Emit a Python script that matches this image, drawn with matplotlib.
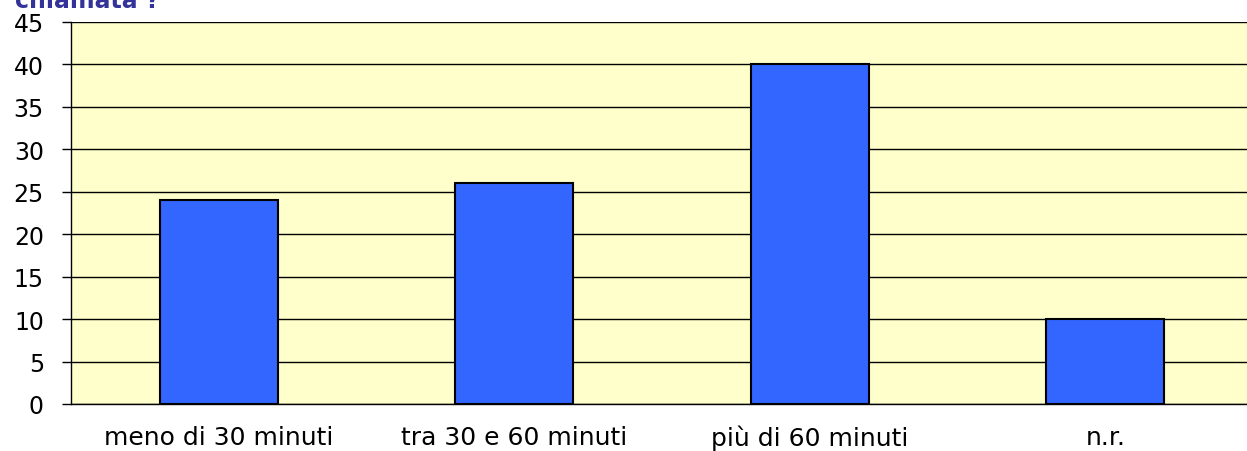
import matplotlib.pyplot as plt

# data
categories = ["meno di 30 minuti", "tra 30 e 60 minuti", "più di 60 minuti", "n.r."]
values = [24, 26, 40, 10]
yticks = [0, 5, 10, 15, 20, 25, 30, 35, 40, 45]

fig = plt.figure(figsize=(12.47, 4.52), dpi=100)
ax = fig.add_axes([71 / 1247, 47 / 452, 1182 / 1247, 382 / 452])
ax.set_facecolor("#FFFFCC")

x = range(len(categories))
ax.bar(x, values, width=0.40, color="#3366FF", edgecolor="black", linewidth=1.5, zorder=3)

ax.set_xlim(-0.5, len(categories) - 0.5)
ax.set_ylim(0, 45)
ax.set_yticks(yticks)
ax.set_xticks(list(x))
ax.set_xticklabels(categories, fontsize=18)
ax.tick_params(axis="x", length=0, pad=15)
ax.tick_params(axis="y", labelsize=17, length=6.5, width=1, pad=13, direction="out")
ax.yaxis.grid(True, color="black", linewidth=1, zorder=1)
ax.set_axisbelow(True)

for side in ["top", "right"]:
    ax.spines[side].set_visible(False)
ax.spines["left"].set_linewidth(1)
ax.spines["bottom"].set_linewidth(1)

# title, cut off at the top of the image as in the original
fig.text(15 / 1247, 1 - 8 / 452, "chiamata ?", fontsize=17, fontweight="bold",
         color="#333399", ha="left", va="baseline")

fig.savefig("out.png", dpi=100)
